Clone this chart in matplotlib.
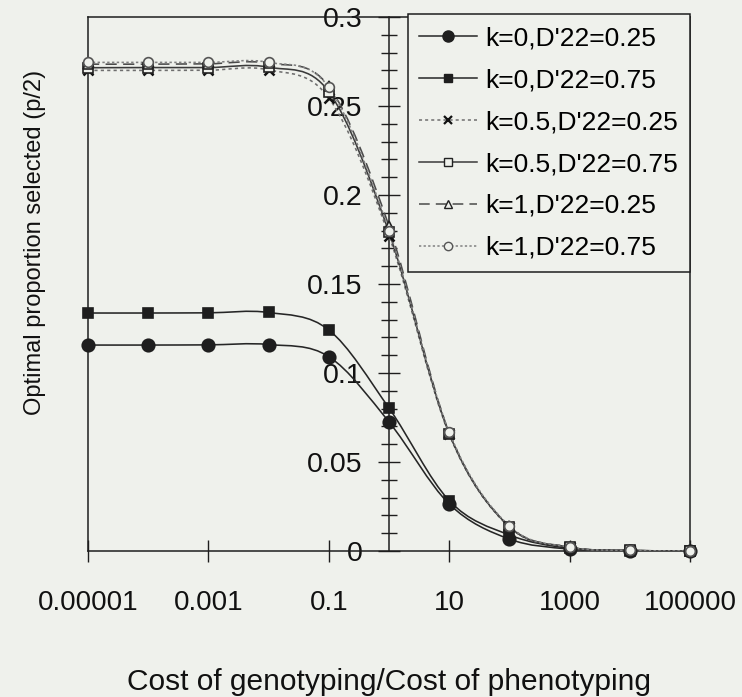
import numpy as np
import matplotlib
matplotlib.use("Agg")
import matplotlib.pyplot as plt
from matplotlib.path import Path
from matplotlib.patches import PathPatch
from matplotlib.lines import Line2D
from matplotlib.ticker import MultipleLocator, FixedLocator, NullLocator, FuncFormatter

plt.rcParams['font.family'] = ['Liberation Sans', 'DejaVu Sans']

# cost ratio (genotyping / phenotyping)
cost_ratio = [1e-5, 1e-4, 1e-3, 1e-2, 1e-1, 1, 10, 100, 1000, 1e4, 1e5]

# optimal proportion selected (p/2) for each scenario
k0_d025 = [0.1157, 0.1157, 0.1158, 0.1160, 0.1092, 0.0725, 0.0264, 0.0067, 0.0011, 0.0002, 0.00003]
k0_d075 = [0.1337, 0.1337, 0.1338, 0.1340, 0.1242, 0.0803, 0.0283, 0.0090, 0.0015, 0.0002, 0.00003]
k05_d025 = [0.2700, 0.2700, 0.2701, 0.2703, 0.2545, 0.1770, 0.0655, 0.0134, 0.0021, 0.0003, 0.00004]
k05_d075 = [0.2715, 0.2716, 0.2716, 0.2718, 0.2580, 0.1790, 0.0660, 0.0136, 0.0021, 0.0003, 0.00004]
k1_d025 = [0.2735, 0.2735, 0.2737, 0.2740, 0.2610, 0.1825, 0.0665, 0.0138, 0.0022, 0.0003, 0.00004]
k1_d075 = [0.2745, 0.2745, 0.2745, 0.2745, 0.2605, 0.1800, 0.0668, 0.0140, 0.0022, 0.0003, 0.00004]

labels = ["k=0,D'22=0.25", "k=0,D'22=0.75", "k=0.5,D'22=0.25",
          "k=0.5,D'22=0.75", "k=1,D'22=0.25", "k=1,D'22=0.75"]
xtick_vals = [1e-5, 1e-3, 1e-1, 10, 1000, 1e5]
xtick_labels = ['0.00001', '0.001', '0.1', '10', '1000', '100000']

bg = '#eff1ec'
ink = '#1e1e1e'


def smooth_path(xs, ys):
    # Catmull-Rom style bezier through the points, built in log10(x) space
    pts = np.column_stack([np.log10(xs), ys])
    n = len(pts)
    verts = [pts[0]]
    codes = [Path.MOVETO]
    for i in range(n - 1):
        p0 = pts[max(i - 1, 0)]
        p1 = pts[i]
        p2 = pts[i + 1]
        p3 = pts[min(i + 2, n - 1)]
        verts += [p1 + (p2 - p0) / 6, p2 - (p3 - p1) / 6, p2]
        codes += [Path.CURVE4] * 3
    verts = np.array(verts)
    verts[:, 0] = 10 ** verts[:, 0]
    return Path(verts, codes)


fig = plt.figure(figsize=(7.42, 6.97), dpi=100)
fig.patch.set_facecolor(bg)
ax = fig.add_axes([88 / 742, (697 - 551) / 697, (690 - 88) / 742, (551 - 17) / 697])
ax.set_facecolor(bg)

styles = [
    # series, line color, line style, marker, marker size, face, edge, legend marker size
    (k0_d025, '#262626', '-', 'o', 9, ink, ink, 8),
    (k0_d075, '#262626', '-', 's', 7, ink, ink, 6),
    (k05_d025, '#6e6e6e', (0, (2, 2)), 'x', 7, ink, '#111111', 6),
    (k05_d075, '#3a3a3a', '-', 's', 7, bg, '#222222', 6),
    (k1_d025, '#4a4a4a', (0, (7, 4)), '^', 7.5, bg, '#222222', 6),
    (k1_d075, '#808080', (0, (1.5, 1.5)), 'o', 7, bg, '#555555', 6),
]

handles = []
for (vals, lc, ls, mk, ms, mfc, mec, lms), lab in zip(styles, labels):
    ax.add_patch(PathPatch(smooth_path(cost_ratio, vals), fill=False,
                           edgecolor=lc, linestyle=ls, lw=1.15, zorder=3))
    ax.plot(cost_ratio, vals, linestyle='none', marker=mk, ms=ms, mfc=mfc,
            mec=mec, mew=1.8 if mk == 'x' else 1.2, zorder=4, clip_on=False)
    handles.append(Line2D([], [], color=lc, linestyle=ls, lw=1.1, marker=mk,
                          ms=lms, mfc=mfc, mec=mec,
                          mew=1.6 if mk == 'x' else 1.0, label=lab))

ax.set_xscale('log')
ax.set_xlim(1e-5, 1e5)
ax.set_ylim(0, 0.3)

# y axis crosses at x = 1, plain frame around the plot area
ax.spines['left'].set_position(('data', 1))
for side in ['left', 'right', 'top', 'bottom']:
    ax.spines[side].set_linewidth(1.1)
    ax.spines[side].set_color(ink)
ax.plot([0, 0], [0, 1], transform=ax.transAxes, color=ink, lw=1.1, clip_on=False)

ax.xaxis.set_major_locator(FixedLocator(xtick_vals))
ax.xaxis.set_minor_locator(NullLocator())
ax.set_xticklabels(xtick_labels)
ax.yaxis.set_major_locator(MultipleLocator(0.05))
ax.yaxis.set_minor_locator(MultipleLocator(0.01))
ax.yaxis.set_major_formatter(FuncFormatter(lambda v, p: '%g' % round(v, 3)))

ax.tick_params(axis='x', which='major', direction='inout', length=16, width=1.0,
               color=ink, pad=20, labelsize=20, labelcolor='#111111')
ax.tick_params(axis='y', which='major', direction='inout', length=16, width=1.0,
               color=ink, pad=11, labelsize=20.5, labelcolor='#111111')
ax.tick_params(axis='y', which='minor', direction='inout', length=12, width=1.0,
               color=ink)

ax.set_xlabel('Cost of genotyping/Cost of phenotyping', fontsize=21.5,
              color='#111111', va='baseline')
ax.xaxis.set_label_coords(0.5, (551 - 690) / 534)
ax.set_ylabel('Optimal proportion selected (p/2)', fontsize=17,
              color='#111111', va='center')
ax.yaxis.set_label_coords((35 - 88) / 602, (551 - 242) / 534)

leg = ax.legend(handles=handles, loc='upper right', bbox_to_anchor=(1.0, 1.005),
                borderaxespad=0, fontsize=19, frameon=True, fancybox=False,
                edgecolor=ink, facecolor=bg, framealpha=1, handlelength=2.2,
                handletextpad=0.3, labelspacing=0.68, borderpad=0.45)
leg.get_frame().set_linewidth(1.1)
leg.set_zorder(5)

fig.savefig('out.png', dpi=100, facecolor=bg)
